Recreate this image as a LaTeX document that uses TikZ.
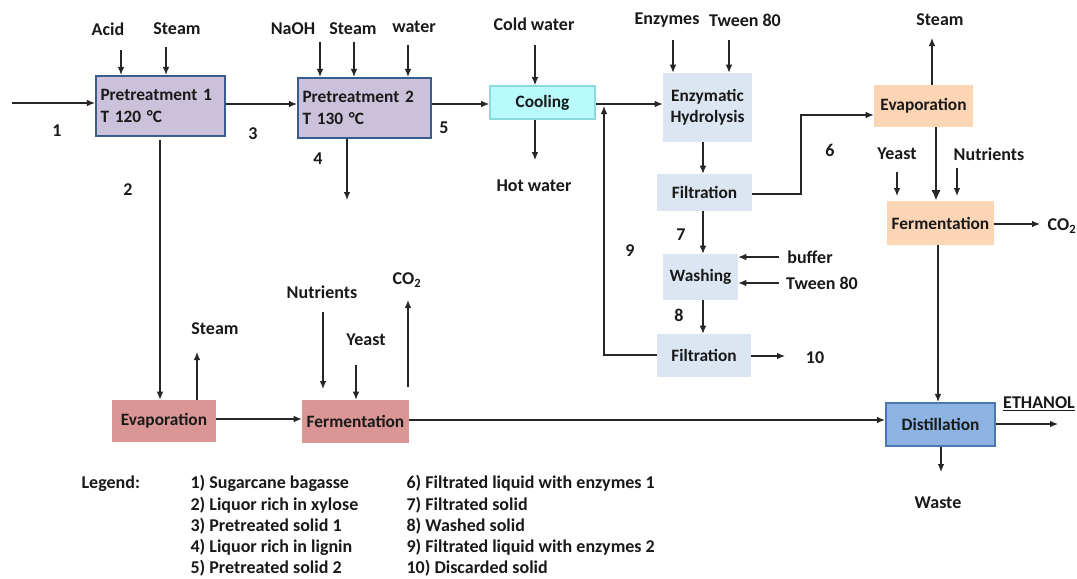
\documentclass[tikz,border=0pt]{standalone}
\usepackage{fontspec}
\setmainfont{Carlito}
\usetikzlibrary{arrows.meta,calc}
\definecolor{lav}{HTML}{CCC1DA}
\definecolor{navy}{HTML}{385D8A}
\definecolor{cyanf}{HTML}{B9FBFD}
\definecolor{cyanb}{HTML}{8CD9DE}
\definecolor{pale}{HTML}{DCE6F2}
\definecolor{peach}{HTML}{FCD5B4}
\definecolor{distf}{HTML}{8DB3E2}
\definecolor{distb}{HTML}{4A78B5}
\definecolor{rose}{HTML}{D99694}
\tikzset{
  every node/.style={font=\fontsize{13.5}{15}\selectfont\bfseries, text=black!90},
  box/.style={inner sep=2pt, font=\fontsize{13}{16}\selectfont\bfseries},
  pre/.style={box, fill=lav, draw=navy, line width=1.6pt, align=left},
  cool/.style={box, fill=cyanf, draw=cyanb, line width=1.2pt},
  paleb/.style={box, fill=pale, align=center},
  peachb/.style={box, fill=peach},
  distb/.style={box, fill=distf, draw=distb, line width=1.6pt},
  roseb/.style={box, fill=rose},
  lbl/.style={inner sep=1pt},
  legtxt/.style={lbl, anchor=north west, align=left, font=\fontsize{13.5}{15.9}\selectfont\bfseries},
  arr/.style={-{Latex[length=6pt,width=5pt]}, line width=0.9pt, black!85},
  thick arr/.style={-{Latex[length=8pt,width=7pt]}, line width=1.8pt, black!85},
}
\begin{document}
\begin{tikzpicture}[x=0.75pt,y=-0.75pt]
\useasboundingbox (0,0) rectangle (1077,578);
% boxes
\node[pre, minimum width=96.75pt, minimum height=45pt, text width=90pt] (p1) at (160.5,106) {Pretreatment 1\\T 120 °C};
\node[pre, minimum width=99.75pt, minimum height=45pt, text width=93pt] (p2) at (364.5,108) {Pretreatment 2\\T 130 °C};
\node[cool, minimum width=78.75pt, minimum height=24.75pt] (cool) at (542.5,102.5) {Cooling};
\node[paleb, minimum width=66.75pt, minimum height=51.75pt] (enz) at (707.5,107.5) {Enzymatic\\Hydrolysis};
\node[paleb, minimum width=71.25pt, minimum height=27.75pt] (f1) at (704.5,192.5) {Filtration};
\node[paleb, minimum width=56.25pt, minimum height=34.5pt] (wash) at (700.5,277) {Washing};
\node[paleb, minimum width=70.5pt, minimum height=32.25pt] (f2) at (704,355.5) {Filtration};
\node[peachb, minimum width=74.25pt, minimum height=31.5pt] (evr) at (923.5,106) {Evaporation};
\node[peachb, minimum width=80.25pt, minimum height=33pt] (fer) at (940.5,223) {Fermentation};
\node[distb, minimum width=81.75pt, minimum height=32.25pt] (dist) at (940.5,424.5) {Distillation};
\node[roseb, minimum width=78pt, minimum height=31.5pt] (evl) at (164,421) {Evaporation};
\node[roseb, minimum width=80.25pt, minimum height=32.25pt] (fel) at (355.5,421.5) {Fermentation};
% labels
\node[lbl] (lacid) at (108,29) {Acid};
\node[lbl] (lst1) at (177,29) {Steam};
\node[lbl] (lnaoh) at (293,29) {NaOH};
\node[lbl] (lst2) at (353,29) {Steam};
\node[lbl] (lwat) at (414,27) {water};
\node[lbl] (lcold) at (534,24) {Cold water};
\node[lbl] (lhot) at (534,186) {Hot water};
\node[lbl] (lenzy) at (667,20) {Enzymes};
\node[lbl] (ltw1) at (745,20) {Tween 80};
\node[lbl] (lbuf) at (810,257) {buffer};
\node[lbl] (ltw2) at (822,283) {Tween 80};
\node[lbl] (lst3) at (940,20) {Steam};
\node[lbl] (lyr) at (897,154) {Yeast};
\node[lbl] (lnr) at (989,154) {Nutrients};
\node[lbl] (lco2r) at (1062,226) {CO\textsubscript{2}};
\node[lbl] (leth) at (1039,404) {\underline{ETHANOL}};
\node[lbl] (lwaste) at (938,503) {Waste};
\node[lbl] (lst4) at (215,329) {Steam};
\node[lbl] (lnl) at (322,292) {Nutrients};
\node[lbl] (lyl) at (366,340) {Yeast};
\node[lbl] (lco2l) at (407,280) {CO\textsubscript{2}};
\node[lbl] (n1) at (57,131) {1};
\node[lbl] (n2) at (128,190) {2};
\node[lbl] (n3) at (253,134) {3};
\node[lbl] (n4) at (318,159) {4};
\node[lbl] (n5) at (444,128) {5};
\node[lbl] (n6) at (830,150) {6};
\node[lbl] (n7) at (681,235) {7};
\node[lbl] (n8) at (679,315) {8};
\node[lbl] (n9) at (630,251) {9};
\node[lbl] (n10) at (815,358) {10};
% free ends
\coordinate (in1) at (12,103);
\coordinate (cacid) at (121,50);
\coordinate (cst1) at (166,47);
\coordinate (cnaoh) at (320,42);
\coordinate (cst2) at (354,42);
\coordinate (cwat) at (408,45);
\coordinate (c4) at (347,200);
\coordinate (ccold) at (535,45);
\coordinate (chot) at (535,160);
\coordinate (cenzy) at (673,40);
\coordinate (ctw1) at (729,40);
\coordinate (cbuf) at (779,257);
\coordinate (ctw2) at (779,283);
\coordinate (c10) at (785,356);
\coordinate (cst3) at (932,38);
\coordinate (cyr) at (897,172);
\coordinate (cnr) at (957,168);
\coordinate (cco2r) at (1040,224);
\coordinate (ceth) at (1058,424);
\coordinate (cwaste) at (941,472);
\coordinate (cst4) at (197,352);
\coordinate (cnl) at (323,312);
\coordinate (cyl) at (356,365);
\coordinate (cco2l) at (408,300);
\coordinate (c6a) at (801,194);
\coordinate (c6b) at (801,115);
\coordinate (c9a) at (604,355);
\coordinate (c9b) at (604,104);
\coordinate (c2) at (160,140);
% connectors
\draw[arr] (in1) -- (in1 -| p1.west);
\draw[arr] (cacid) -- (cacid |- p1.north);
\draw[arr] (cst1) -- (cst1 |- p1.north);
\draw[arr] (p1.east |- 0,104) -- (p2.west |- 0,104);
\draw[arr] (c2) -- (c2 |- evl.north);
\draw[arr] (cnaoh) -- (cnaoh |- p2.north);
\draw[arr] (cst2) -- (cst2 |- p2.north);
\draw[arr] (cwat) -- (cwat |- p2.north);
\draw[arr] (c4 |- p2.south) -- (c4);
\draw[arr] (p2.east |- 0,104) -- (cool.west |- 0,104);
\draw[arr] (ccold) -- (ccold |- cool.north);
\draw[arr] (ccold |- cool.south) -- (chot);
\draw[arr] (cool.east |- 0,104) -- (enz.west |- 0,104);
\draw[arr] (cenzy) -- (cenzy |- enz.north);
\draw[arr] (ctw1) -- (ctw1 |- enz.north);
\draw[arr] (703,0 |- enz.south) -- (703,0 |- f1.north);
\draw[arr] (f1.east |- c6a) -- (c6a) -- (c6b) -- (c6b -| evr.west);
\draw[arr] (703,0 |- f1.south) -- (703,0 |- wash.north);
\draw[arr] (cbuf) -- (cbuf -| wash.east);
\draw[arr] (ctw2) -- (ctw2 -| wash.east);
\draw[arr] (703,0 |- wash.south) -- (703,0 |- f2.north);
\draw[arr] (f2.east |- c10) -- (c10);
\draw[arr] (f2.west |- c9a) -- (c9a) -- ($(c9b)+(0,2)$);
\draw[arr] (cst3 |- evr.north) -- (cst3);
\draw[thick arr] (936,0 |- evr.south) -- (936,0 |- fer.north);
\draw[arr] (cyr) -- ($(cyr)+(0,24)$);
\draw[arr] (cnr) -- ($(cnr)+(0,28)$);
\draw[arr] (fer.east |- cco2r) -- (cco2r);
\draw[arr] (938,0 |- fer.south) -- (938,0 |- dist.north);
\draw[arr] (dist.east |- ceth) -- (ceth);
\draw[arr] (cwaste |- dist.south) -- (cwaste);
\draw[arr] (cst4 |- evl.north) -- (cst4);
\draw[arr] (evl.east |- 0,419) -- (fel.west |- 0,419);
\draw[arr] (cnl) -- ($(cnl)+(0,77)$);
\draw[arr] (cyl) -- (cyl |- fel.north);
\draw[arr] ($(cco2l)+(0,87)$) -- (cco2l);
\draw[arr] (fel.east |- 0,420) -- (dist.west |- 0,420);
% legend
\node[lbl, anchor=west] (leg) at (80,484) {Legend:};
\node[legtxt] (lega) at (189,474) {1) Sugarcane bagasse\\2) Liquor rich in xylose\\3) Pretreated solid 1\\4) Liquor rich in lignin\\5) Pretreated solid 2};
\node[legtxt] (legb) at (405,474) {6) Filtrated liquid with enzymes 1\\7) Filtrated solid\\8) Washed solid\\9) Filtrated liquid with enzymes 2\\10) Discarded solid};
\end{tikzpicture}
\end{document}
